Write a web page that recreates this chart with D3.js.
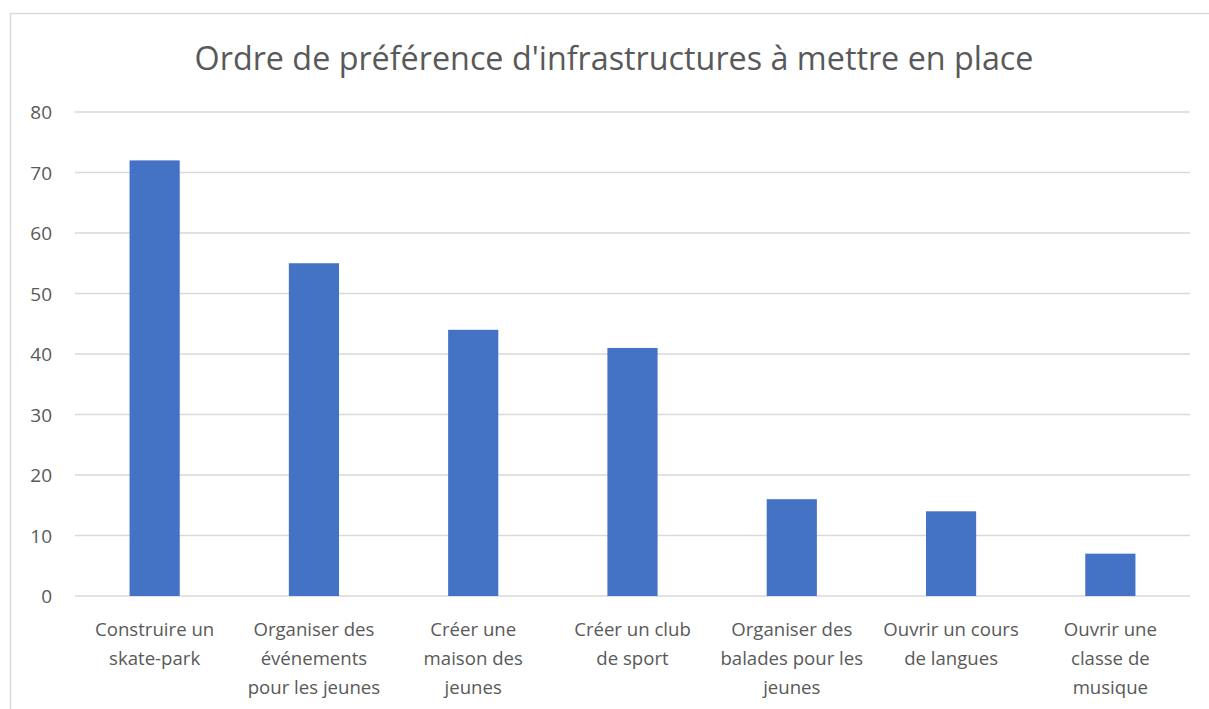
<!DOCTYPE html>
<html>
<head>
<meta charset="utf-8">
<script src="https://cdn.jsdelivr.net/npm/d3@7"></script>
<style>
  body { margin: 0; background: #fff; }
  text { font-family: "Open Sans", "Noto Sans", sans-serif; fill: #595959; }
</style>
</head>
<body>
<div id="chart"></div>
<script>
// ======= data
var categories = [
  ["Construire un", "skate-park"],
  ["Organiser des", "événements", "pour les jeunes"],
  ["Créer une", "maison des", "jeunes"],
  ["Créer un club", "de sport"],
  ["Organiser des", "balades pour les", "jeunes"],
  ["Ouvrir un cours", "de langues"],
  ["Ouvrir une", "classe de", "musique"]
];
var values = [72, 55, 44, 41, 16, 14, 7];
var yTicks = [0, 10, 20, 30, 40, 50, 60, 70, 80];
var title = "Ordre de préférence d'infrastructures à mettre en place";

var W = 1209, H = 709;
var plotL = 75, plotR = 1190, plotT = 112, plotB = 596;

var svg = d3.select("#chart")
  .append("svg")
  .attr("width", W)
  .attr("height", H);

// ======= chart frame (left + top border only visible)
svg.append("path")
  .attr("d", "M10.5,720 V13.5 H1215")
  .attr("fill", "none")
  .attr("stroke", "#d9d9d9")
  .attr("stroke-width", 1.5);

var x = d3.scaleBand()
  .domain(d3.range(categories.length))
  .range([plotL, plotR])
  .paddingInner(0.685)
  .paddingOuter(0.3425);

var y = d3.scaleLinear()
  .domain([0, 80])
  .range([plotB, plotT]);

// ======= gridlines
svg.selectAll("line.grid")
  .data(yTicks)
  .enter()
  .append("line")
  .attr("class", "grid")
  .attr("x1", plotL)
  .attr("x2", plotR)
  .attr("y1", function(d) { return y(d); })
  .attr("y2", function(d) { return y(d); })
  .attr("stroke", "#d9d9d9")
  .attr("stroke-width", 1.5);

// ======= y tick labels
svg.selectAll("text.ytick")
  .data(yTicks)
  .enter()
  .append("text")
  .attr("class", "ytick")
  .attr("x", 52)
  .attr("y", function(d) { return y(d) + 7; })
  .attr("text-anchor", "end")
  .attr("font-size", "19px")
  .text(function(d) { return d; });

// ======= bars
svg.selectAll("rect.bar")
  .data(values)
  .enter()
  .append("rect")
  .attr("class", "bar")
  .attr("x", function(d, i) { return x(i); })
  .attr("width", x.bandwidth())
  .attr("y", function(d) { return y(d); })
  .attr("height", function(d) { return y(0) - y(d); })
  .attr("fill", "#4472c4");

// ======= category labels
var labels = svg.selectAll("text.cat")
  .data(categories)
  .enter()
  .append("text")
  .attr("class", "cat")
  .attr("text-anchor", "middle")
  .attr("font-size", "18.6px");

labels.selectAll("tspan")
  .data(function(d, i) { return d.map(function(s) { return { s: s, i: i }; }); })
  .enter()
  .append("tspan")
  .attr("x", function(d) { return x(d.i) + x.bandwidth() / 2; })
  .attr("y", function(d, j) { return 636 + j * 29; })
  .text(function(d) { return d.s; });

// ======= title
svg.append("text")
  .attr("x", 614)
  .attr("y", 70)
  .attr("text-anchor", "middle")
  .attr("font-size", "32.3px")
  .text(title);
</script>
</body>
</html>
